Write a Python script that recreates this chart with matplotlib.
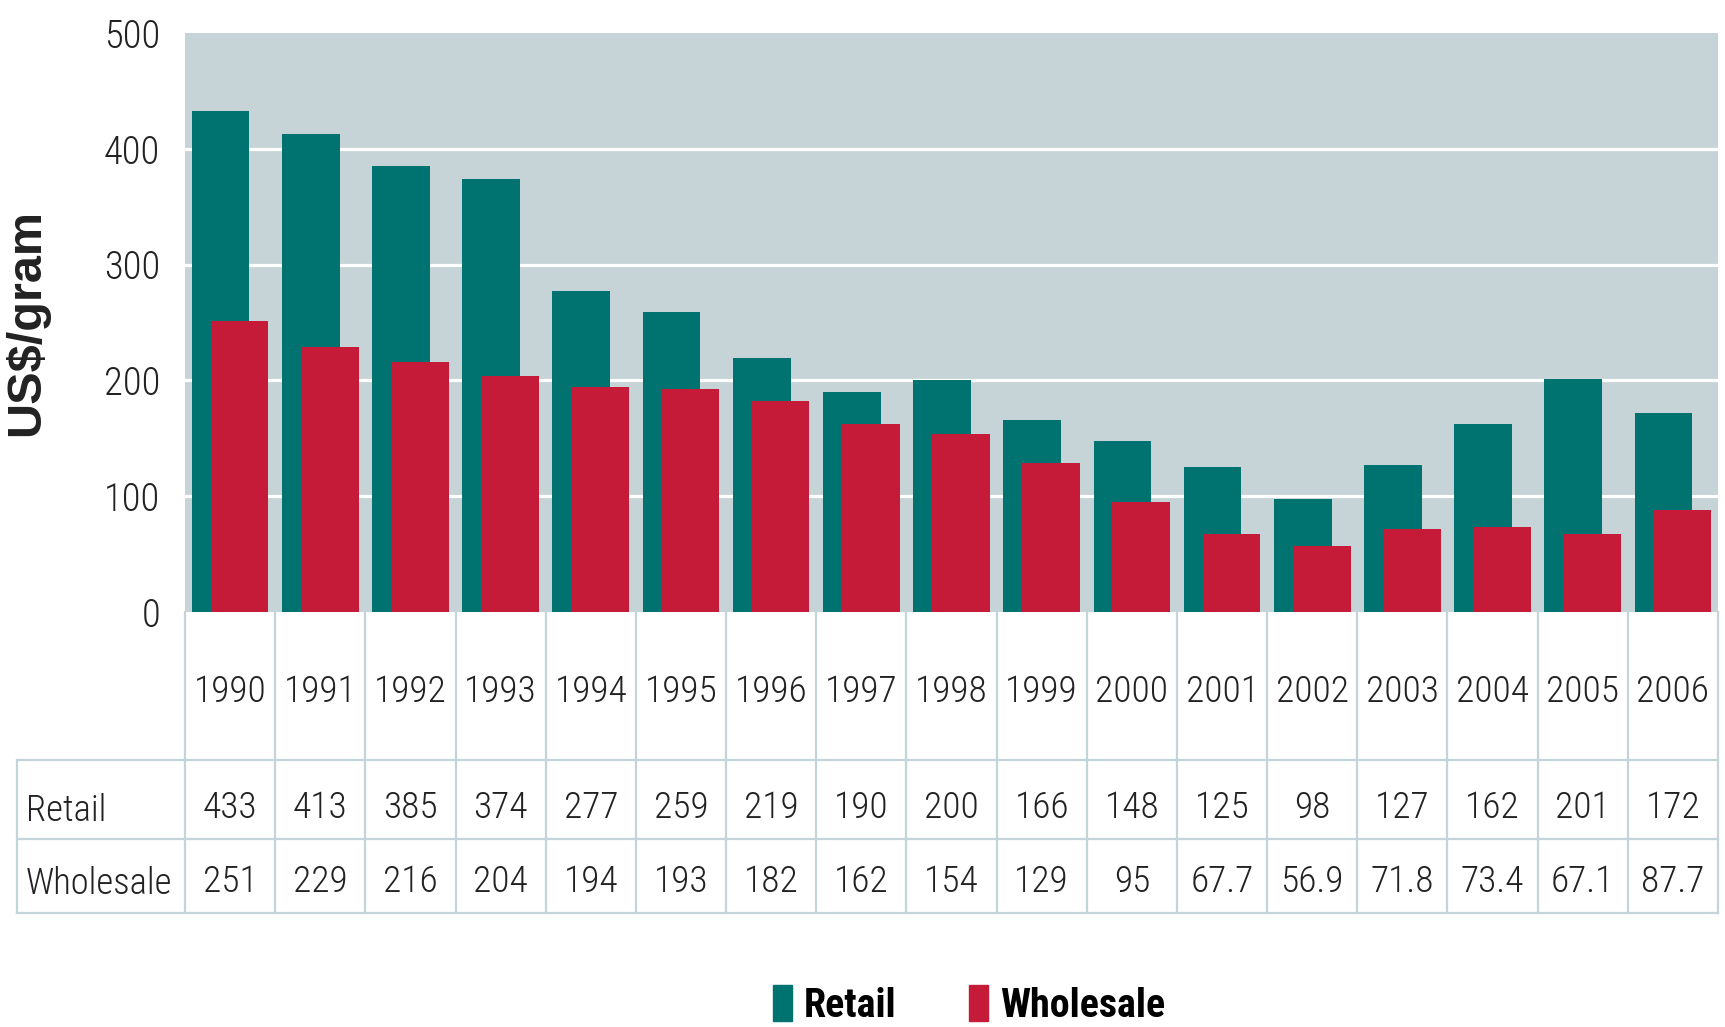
import numpy as np
import matplotlib
matplotlib.use('Agg')
import matplotlib.pyplot as plt
from matplotlib.patches import Patch
from matplotlib import font_manager
from matplotlib.font_manager import FontProperties

# data (US$/gram)
years     = list(range(1990, 2007))
retail    = [433, 413, 385, 374, 277, 259, 219, 190, 200, 166, 148, 125, 98, 127, 162, 201, 172]
wholesale = [251, 229, 216, 204, 194, 193, 182, 162, 154, 129, 95, 67.7, 56.9, 71.8, 73.4, 67.1, 87.7]
yticks    = [0, 100, 200, 300, 400, 500]

# colours
teal   = '#00726f'
red    = '#c61b38'
bg     = '#c6d4d7'
tline  = '#c4d5d9'
txt    = '#222222'

# look for a condensed face on the box, regular and bold
def find_font(keys, bold):
    for k in keys:
        for f in font_manager.fontManager.ttflist:
            fn = f.fname.split('/')[-1].replace('-', '').replace('_', '').lower()
            if k not in fn or (('bold' in fn) != bold) or 'italic' in fn or 'oblique' in fn:
                continue
            rest = fn.replace(k, '')
            if any(s in rest for s in ['light', 'thin', 'medium', 'black', 'semi', 'extra']):
                continue
            return f.fname
    return None

reg_f = find_font(['opensanscondensedlight', 'robotocondensedlight', 'opensanscondensed', 'robotocondensed',
                   'liberationsansnarrow', 'dejavusanscondensed'], False)
bold_f = find_font(['opensanscondensed', 'robotocondensed', 'liberationsansnarrow',
                    'dejavusanscondensed'], True)
fp_reg = FontProperties(fname=reg_f) if reg_f else FontProperties(family='Liberation Sans')
fp_bold = FontProperties(fname=bold_f) if bold_f else FontProperties(family='Liberation Sans', weight='bold')

W, H = 1725, 1027
fig = plt.figure(figsize=(W/100, H/100), dpi=100)
rend = fig.canvas.get_renderer()

# pick font sizes so text widths match the picture (px)
def fit(s, base, width_px):
    p = base.copy(); p.set_size(10)
    t = fig.text(0, 0, s, fontproperties=p)
    w = t.get_window_extent(rend).width
    t.remove()
    p = base.copy(); p.set_size(10 * width_px / w)
    return p

fp_cell = fit('1990', fp_reg, 73)
fp_tick = fit('500', fp_reg, 57)
fp_row  = fit('Wholesale', fp_reg, 147)
fp_leg  = fit('Wholesale', fp_bold, 165)

# pixel edges of plot / table
x0, x1 = 185, 1718
y_top, y_base = 33, 612
y_r, y_w, y_bot = 760, 839, 913

ax = fig.add_axes([x0/W, 1-y_base/H, (x1-x0)/W, (y_base-y_top)/H])
x = np.arange(len(years))
ax.set_facecolor(bg)
for v in yticks[1:-1]:
    ax.axhline(v, color='white', lw=2.3, zorder=1)
ax.bar(x-0.105, retail, width=0.64, color=teal, zorder=2)
ax.bar(x+0.105, wholesale, width=0.64, color=red, zorder=3)
ax.set_xlim(-0.5, len(years)-0.5)
ax.set_ylim(0, 500)
ax.set_yticks(yticks)
ax.set_xticks([])
ax.tick_params(axis='y', length=0, pad=18, labelcolor=txt)
for lab in ax.get_yticklabels():
    lab.set_fontproperties(fp_tick)
for s in ax.spines.values():
    s.set_visible(False)

fig.text(27/W, 1-322/H, 'US$/gram', rotation=90, ha='center', va='center',
         family='Liberation Sans', weight='bold', fontsize=35, color=txt)

# data table under the bars (y in pixel units of the figure)
axt = fig.add_axes([x0/W, 1-y_bot/H, (x1-x0)/W, (y_bot-y_base)/H])
axt.set_xlim(-0.5, len(years)-0.5)
axt.set_ylim(y_bot, y_base)
axt.axis('off')
colw = (x1-x0)/len(years)
xl = -0.5 - (x0-17)/colw
lk = dict(color=tline, lw=1.6, clip_on=False)
for i in range(len(years)+1):
    axt.plot([i-0.5, i-0.5], [y_base, y_bot], **lk)
for yy in [y_r, y_w, y_bot]:
    axt.plot([xl, len(years)-0.5], [yy, yy], **lk)
axt.plot([xl, xl], [y_r, y_bot], **lk)

for i, yr in enumerate(years):
    axt.text(i, 692, str(yr), ha='center', va='center', fontproperties=fp_cell, color=txt)
    axt.text(i, 808, f'{retail[i]:g}', ha='center', va='center', fontproperties=fp_cell, color=txt)
    axt.text(i, 882, f'{wholesale[i]:g}', ha='center', va='center', fontproperties=fp_cell, color=txt)
xlab = -0.5 - (x0-26)/colw
axt.text(xlab, 811, 'Retail', ha='left', va='center', fontproperties=fp_row, color=txt, clip_on=False)
axt.text(xlab, 884, 'Wholesale', ha='left', va='center', fontproperties=fp_row, color=txt, clip_on=False)

handles = [Patch(color=teal, label='Retail'), Patch(color=red, label='Wholesale')]
fig.legend(handles=handles, loc='center', bbox_to_anchor=(969/W, 1-1005/H), ncol=2, frameon=False,
           prop=fp_leg, handlelength=0.48, handleheight=1.0,
           handletextpad=0.3, columnspacing=1.8, borderpad=0)

fig.savefig('out.png', dpi=100)
